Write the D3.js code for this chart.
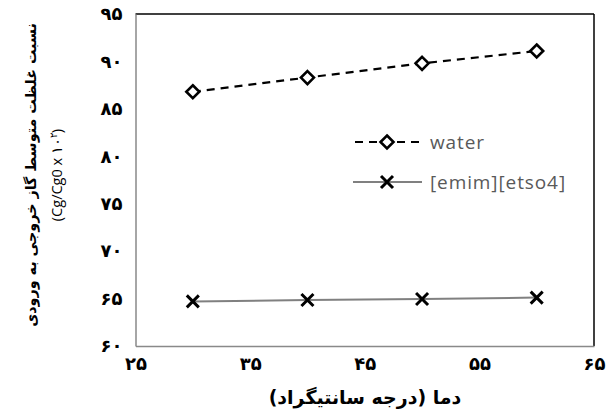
<!DOCTYPE html>
<html>
<head>
<meta charset="utf-8">
<script src="https://cdnjs.cloudflare.com/ajax/libs/d3/7.8.5/d3.min.js"></script>
<style>
  body { margin: 0; background: #fff; }
  svg { display: block; }
</style>
</head>
<body>
<div id="chart"></div>
<script>
// temperatures (deg C)
var temps = [30, 40, 50, 60];
var waterVals = [86.8, 88.3, 89.8, 91.1];
var emimVals = [64.7, 64.85, 64.95, 65.1];
var seriesNames = ["water", "[emim][etso4]"];
var xTicks = [25, 35, 45, 55, 65];
var yTicks = [60, 65, 70, 75, 80, 85, 90, 95];

var W = 616, H = 411;
var margin = {top: 14, right: 22, bottom: 65, left: 135.5},
    width = W - margin.left - margin.right,
    height = H - margin.top - margin.bottom;

var svg = d3.select("#chart")
  .append("svg")
    .attr("width", W)
    .attr("height", H);

var g = svg.append("g")
    .attr("transform", "translate(" + margin.left + "," + margin.top + ")");

var x = d3.scaleLinear().domain([25, 65]).range([0, width]);
var y = d3.scaleLinear().domain([60, 95]).range([height, 0]);

// persian digits
function fa(n) {
  return String(n).replace(/[0-9]/g, function(c) { return "۰۱۲۳۴۵۶۷۸۹"[+c]; });
}

// frame: top/right dark, left/bottom gray
g.append("line").attr("x1", 0).attr("x2", width).attr("y1", 0).attr("y2", 0)
  .attr("stroke", "#000").attr("stroke-width", 1.5);
g.append("line").attr("x1", width).attr("x2", width).attr("y1", 0).attr("y2", height)
  .attr("stroke", "#000").attr("stroke-width", 1.5);

var xAxis = g.append("g")
  .attr("transform", "translate(0," + height + ")")
  .call(d3.axisBottom(x).tickValues(xTicks).tickFormat(fa).tickSize(0).tickPadding(11));
var yAxis = g.append("g")
  .call(d3.axisLeft(y).tickValues(yTicks).tickFormat(fa).tickSize(0).tickPadding(13));

[xAxis, yAxis].forEach(function(a) {
  a.select(".domain").attr("stroke", "#898989").attr("stroke-width", 1.5);
  a.selectAll("text")
    .attr("fill", "#000")
    .style("font-family", "'DejaVu Sans', sans-serif")
    .style("font-weight", "bold")
    .style("font-size", "18px");
});

var water = temps.map(function(t, i) { return {t: t, v: waterVals[i]}; });
var emim = temps.map(function(t, i) { return {t: t, v: emimVals[i]}; });

var line = d3.line()
  .x(function(d) { return x(d.t); })
  .y(function(d) { return y(d.v); });

g.append("path").datum(emim)
  .attr("d", line)
  .attr("fill", "none")
  .attr("stroke", "#808080")
  .attr("stroke-width", 2);

g.append("path").datum(water)
  .attr("d", line)
  .attr("fill", "none")
  .attr("stroke", "#000")
  .attr("stroke-width", 2.2)
  .attr("stroke-dasharray", "8,6");

function diamond(sel, cx, cy) {
  var r = 6.5;
  sel.append("path")
    .attr("d", "M" + cx + "," + (cy - r) + "L" + (cx + r) + "," + cy + "L" + cx + "," + (cy + r) + "L" + (cx - r) + "," + cy + "Z")
    .attr("fill", "#fff")
    .attr("stroke", "#000")
    .attr("stroke-width", 2.6);
}
function cross(sel, cx, cy) {
  var r = 6;
  sel.append("path")
    .attr("d", "M" + (cx - r) + "," + (cy - r) + "L" + (cx + r) + "," + (cy + r) + "M" + (cx + r) + "," + (cy - r) + "L" + (cx - r) + "," + (cy + r))
    .attr("fill", "none")
    .attr("stroke", "#000")
    .attr("stroke-width", 3);
}

water.forEach(function(d) { diamond(g, x(d.t), y(d.v)); });
emim.forEach(function(d) { cross(g, x(d.t), y(d.v)); });

// legend
var lg = svg.append("g");
var ly = [142, 182];
lg.append("line").attr("x1", 353).attr("x2", 420).attr("y1", ly[0]).attr("y2", ly[0])
  .attr("stroke", "#000").attr("stroke-width", 2.2).attr("stroke-dasharray", "8,6")
  .attr("stroke-dashoffset", -2);
diamond(lg, 387, ly[0]);
lg.append("line").attr("x1", 353).attr("x2", 422).attr("y1", ly[1]).attr("y2", ly[1])
  .attr("stroke", "#808080").attr("stroke-width", 2);
cross(lg, 387, ly[1]);
lg.selectAll("text.leg").data(seriesNames).enter().append("text")
  .attr("class", "leg")
  .attr("x", 430)
  .attr("y", function(d, i) { return ly[i]; })
  .attr("dy", "0.35em")
  .attr("fill", "#595959")
  .style("font-family", "'Open Sans', sans-serif")
  .style("font-size", "19px")
  .style("letter-spacing", "0.9px")
  .text(function(d) { return d; });

// axis titles
svg.append("text")
  .attr("x", 365).attr("y", 397)
  .attr("text-anchor", "middle")
  .attr("dy", "0.35em")
  .attr("direction", "rtl")
  .style("font-family", "'DejaVu Sans', sans-serif")
  .style("font-weight", "bold")
  .style("font-size", "19px")
  .text("دما (درجه سانتیگراد)");

var yt = svg.append("text")
  .attr("transform", "translate(31,175) rotate(-90)")
  .attr("text-anchor", "middle")
  .style("font-family", "'DejaVu Sans', sans-serif")
  .style("font-weight", "bold")
  .style("font-size", "14.3px");
yt.append("tspan").attr("x", 0).attr("dy", "0.35em").attr("direction", "rtl")
  .text("نسبت غلظت متوسط گاز خروجی به ورودی");
var yt2 = svg.append("text")
  .attr("transform", "translate(57,175) rotate(-90)")
  .attr("text-anchor", "middle")
  .attr("dy", "0.35em")
  .style("font-family", "'Open Sans', sans-serif")
  .style("font-size", "14.5px");
yt2.append("tspan").text("(Cg/Cg0 x ۱۰");
yt2.append("tspan").attr("dy", "-5").style("font-size", "10px").text("۲");
yt2.append("tspan").attr("dy", "5").text(")");
</script>
</body>
</html>
